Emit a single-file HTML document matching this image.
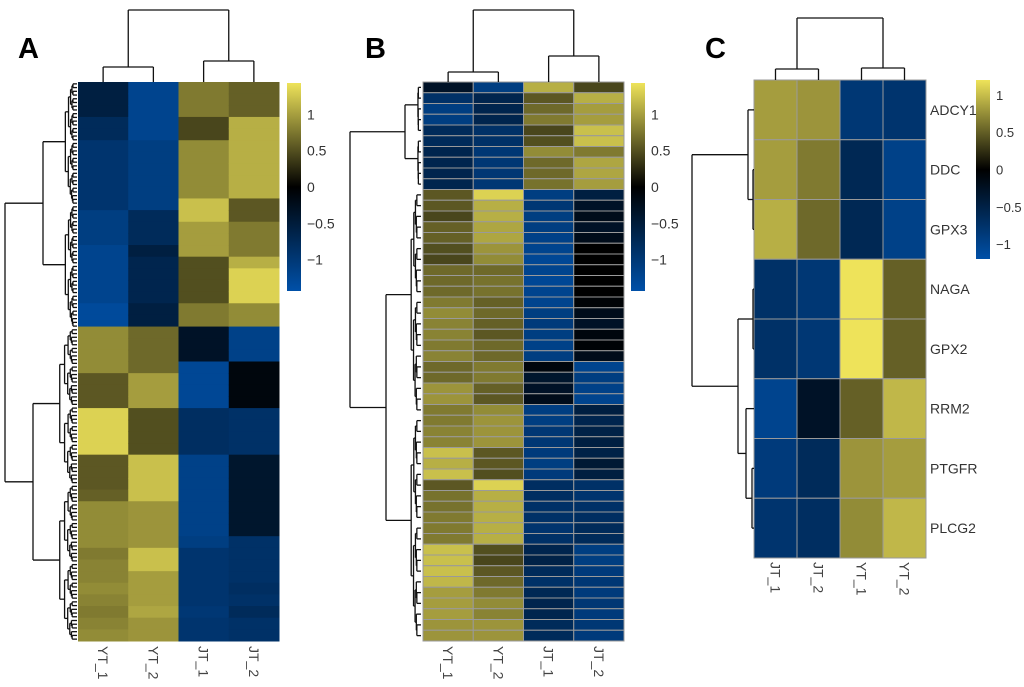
<!DOCTYPE html>
<html><head><meta charset="utf-8"><style>
html,body{margin:0;padding:0;background:#fff;width:1024px;height:687px;overflow:hidden}
svg{display:block}
text{font-family:"Liberation Sans",sans-serif}
</style></head><body>
<svg id="fig" width="1024" height="687" viewBox="0 0 1024 687" xmlns="http://www.w3.org/2000/svg">
<defs>
<linearGradient id="cb" x1="0" y1="1" x2="0" y2="0">
<stop offset="0" stop-color="#0050a8"/><stop offset="0.5" stop-color="#000000"/><stop offset="1" stop-color="#eee35a"/>
</linearGradient>
</defs>
<text x="18" y="58" font-size="29" font-weight="bold">A</text>
<text x="365" y="58" font-size="29" font-weight="bold">B</text>
<text x="705" y="58" font-size="29" font-weight="bold">C</text>
</svg>
<script>
// ---- Panel A data ----
const colsA = ["YT_1","YT_2","JT_1","JT_2"];
const A_YT1 = [-0.5,-0.5,-0.5,-0.7,-0.7,-0.85,-0.85,-0.85,-0.85,-0.85,-0.85,-1.0,-1.0,-1.0,-1.1,-1.1,-1.1,-1.1,-1.1,-1.2,-1.2,0.8,0.8,0.8,0.8,0.5,0.5,0.5,1.2,1.2,1.2,1.2,0.5,0.5,0.5,0.55,0.8,0.8,0.8,0.8,0.7,0.75,0.75,0.8,0.75,0.7,0.75,0.8];
const A_YT2 = [-1.1,-1.1,-1.1,-1.1,-1.1,-1.0,-1.0,-1.0,-1.0,-1.0,-1.0,-0.7,-0.7,-0.7,-0.5,-0.6,-0.6,-0.6,-0.6,-0.5,-0.5,0.6,0.6,0.6,0.6,0.9,0.9,0.9,0.45,0.45,0.45,0.45,1.1,1.1,1.1,1.1,0.85,0.85,0.85,0.85,1.1,1.1,0.9,0.9,0.9,0.95,0.85,0.85];
const A_JT1 = [0.7,0.7,0.7,0.4,0.4,0.8,0.8,0.8,0.8,0.8,1.1,1.1,0.9,0.9,0.9,0.45,0.45,0.45,0.45,0.7,0.7,-0.3,-0.3,-0.3,-1.15,-1.15,-1.15,-1.15,-0.75,-0.75,-0.75,-0.75,-1.05,-1.05,-1.05,-1.05,-1.05,-1.05,-1.05,-1.0,-0.85,-0.85,-0.85,-0.85,-0.85,-0.9,-0.85,-0.85];
const A_JT2 = [0.55,0.55,0.55,1.0,1.0,1.0,1.0,1.0,1.0,1.0,0.5,0.5,0.7,0.7,0.7,1.0,1.2,1.2,1.2,0.8,0.8,-1.05,-1.05,-1.05,-0.1,-0.1,-0.1,-0.1,-0.8,-0.8,-0.8,-0.8,-0.35,-0.35,-0.35,-0.35,-0.35,-0.35,-0.35,-0.8,-0.8,-0.8,-0.8,-0.75,-0.8,-0.7,-0.8,-0.8];
// ---- Panel B data ----
const colsB = ["YT_1","YT_2","JT_1","JT_2"];
const B_YT1 = [-0.3,-0.8,-1.0,-1.0,-0.7,-0.7,-0.6,-0.6,-0.6,-0.6,0.5,0.5,0.4,0.55,0.55,0.45,0.4,0.6,0.6,0.6,0.7,0.8,0.75,0.75,0.7,0.75,0.6,0.6,0.85,0.85,0.7,0.7,0.75,0.75,1.1,1.0,1.1,0.5,0.65,0.65,0.7,0.7,0.7,1.1,1.1,1.1,1.05,0.9,0.9,0.9,0.85,0.85];
const B_YT2 = [-1.0,-0.6,-0.6,-0.6,-0.8,-0.8,-0.9,-0.9,-0.9,-0.9,1.2,1.0,1.0,0.95,0.95,0.85,0.8,0.6,0.65,0.65,0.55,0.6,0.55,0.5,0.6,0.6,0.7,0.7,0.55,0.5,0.8,0.85,0.85,0.85,0.5,0.5,0.45,1.2,1.0,1.0,1.0,1.0,1.0,0.45,0.4,0.5,0.6,0.7,0.8,0.75,0.85,0.85];
const B_JT1 = [1.0,0.5,0.6,0.7,0.4,0.45,0.8,0.6,0.6,0.65,-1.0,-0.9,-1.0,-1.0,-1.05,-1.1,-1.15,-1.1,-1.15,-1.1,-1.1,-1.0,-0.95,-1.0,-1.05,-1.0,-0.1,-0.35,-0.3,-0.2,-1.0,-1.0,-0.9,-0.9,-0.95,-1.0,-0.95,-0.75,-0.75,-0.8,-0.8,-0.85,-0.8,-0.6,-0.55,-0.7,-0.8,-0.65,-0.6,-0.6,-0.7,-0.7];
const B_JT2 = [0.4,1.0,0.9,0.9,1.1,1.1,0.7,0.95,0.95,0.9,-0.5,-0.3,-0.2,-0.3,-0.2,0,0,0,0,0,-0.05,-0.2,-0.3,-0.1,-0.05,-0.2,-1.1,-1.0,-1.05,-1.1,-0.5,-0.6,-0.55,-0.5,-0.55,-0.4,-0.5,-0.8,-0.85,-0.8,-0.75,-0.7,-0.7,-1.0,-1.0,-0.95,-0.9,-0.95,-0.9,-0.95,-0.9,-0.95];
// ---- Panel C data ----
const colsC = ["JT_1","JT_2","YT_1","YT_2"];
const genesC = ["ADCY1","DDC","GPX3","NAGA","GPX2","RRM2","PTGFR","PLCG2"];
const C_JT1 = [0.9,0.9,1.0,-0.8,-0.8,-1.1,-0.95,-0.85];
const C_JT2 = [0.85,0.7,0.6,-0.9,-0.9,-0.3,-0.7,-0.75];
const C_YT1 = [-0.9,-0.65,-0.65,1.3,1.3,0.55,0.85,0.8];
const C_YT2 = [-0.85,-1.05,-1.05,0.55,0.55,1.05,0.9,1.05];
const legendTicks = [1,0.5,0,-0.5,-1];
const legendLabels = ["1","0.5","0","\u22120.5","\u22121"];

const NS="http://www.w3.org/2000/svg";
const svg=document.getElementById('fig');
function mk(tag,attrs,parent){const e=document.createElementNS(NS,tag);for(const k in attrs)e.setAttribute(k,attrs[k]);(parent||svg).appendChild(e);return e;}
function color(v){
  const t=Math.max(-1,Math.min(1,v/1.3));
  let r,g,b;
  if(t<0){const s=-t;r=0;g=80*s;b=168*s;}
  else{const s=t;r=238*s;g=227*s;b=90*s;}
  return `rgb(${Math.round(r)},${Math.round(g)},${Math.round(b)})`;
}
function line(x1,y1,x2,y2,name){const l=mk('line',{x1,y1,x2,y2,stroke:'#111','stroke-width':1.3});
  
  
}
function heat(series,x0,x1,y0,y1,border,pname){
  const nc=series.length,nr=series[0].length;
  const sx=i=>x0+(x1-x0)*i/nc, sy=j=>y0+(y1-y0)*j/nr;
  for(let c=0;c<nc;c++)for(let r=0;r<nr;r++){
    const rc=mk('rect',{x:sx(c),y:sy(r),width:sx(c+1)-sx(c)+(border?0:0.5),height:sy(r+1)-sy(r)+(border?0:0.5),fill:color(series[c][r])});
    if(border){rc.setAttribute('stroke','#9a9a9a');rc.setAttribute('stroke-width','1');}
    
    
  }
  return {sx,sy};
}
function colLabels(labels,xs,y,pname){
  labels.forEach((l,i)=>{const t=mk('text',{x:0,y:0,'font-size':14,fill:'#444',transform:`translate(${xs[i]-5},${y}) rotate(90)`});t.textContent=l;
    
    });
}
function legend(x,y0,y1,vmax,pname,fs){
  const r=mk('rect',{x,y:y0,width:14,height:y1-y0,fill:'url(#cb)'});
  
  
  const sy=v=>y0+(y1-y0)*(vmax-v)/(2*vmax);
  legendTicks.forEach((v,i)=>{const t=mk('text',{x:x+20,y:sy(v)+5,'font-size':fs||14,fill:'#333'});t.textContent=legendLabels[i];
    
    });
}
function rowTree(a,b,ys,xRight,maxW,pname){
  if(b-a<=1)return [xRight,ys(a+0.5)];
  const m=Math.floor((a+b)/2);
  const L=rowTree(a,m,ys,xRight,maxW,pname),R=rowTree(m,b,ys,xRight,maxW,pname);
  const x=xRight-maxW*Math.pow((b-a),0.55)/Math.pow(200,0.55)-2;
  line(x,L[1],L[0],L[1],pname);line(x,R[1],R[0],R[1],pname);line(x,L[1],x,R[1],pname);
  return [x,(L[1]+R[1])/2];
}
function subTree(a,b,ys,xRight,xNode,pname){
  const m=Math.floor((a+b)/2);
  const L=rowTree(a,m,ys,xRight,xRight-xNode-8,pname),R=rowTree(m,b,ys,xRight,xRight-xNode-8,pname);
  line(xNode,L[1],L[0],L[1],pname);line(xNode,R[1],R[0],R[1],pname);line(xNode,L[1],xNode,R[1],pname);
  return [xNode,(L[1]+R[1])/2];
}
// ---- Panel A ----
(function(){
  const x0=78,x1=279,y0=82,y1=641;
  const {sx}=heat([A_YT1,A_YT2,A_JT1,A_JT2],x0,x1,y0,y1,false,'panel-a');
  const c=i=>(sx(i)+sx(i+1))/2, D='panel-a-col-dendro';
  line(c(0),82,c(0),67,D);line(c(1),82,c(1),67,D);line(c(0),67,c(1),67,D);
  line(c(2),82,c(2),61,D);line(c(3),82,c(3),61,D);line(c(2),61,c(3),61,D);
  const lm=(c(0)+c(1))/2,rm=(c(2)+c(3))/2;
  line(lm,67,lm,10,D);line(rm,61,rm,10,D);line(lm,10,rm,10,D);
  const N=150,split=66;const ys=i=>y0+(y1-y0)*i/N;
  const T=subTree(0,split,ys,77,43,'panel-a-row-dendro');
  const B=subTree(split,N,ys,77,33,'panel-a-row-dendro');
  line(5,T[1],T[0],T[1],'panel-a-row-dendro');line(5,B[1],B[0],B[1],'panel-a-row-dendro');line(5,T[1],5,B[1],'panel-a-row-dendro');
  colLabels(colsA,[0,1,2,3].map(c),646,'panel-a');
  legend(287,83,291,1.43,'panel-a');
})();
// ---- Panel B ----
(function(){
  const x0=423,x1=624,y0=82,y1=641;
  const {sx,sy}=heat([B_YT1,B_YT2,B_JT1,B_JT2],x0,x1,y0,y1,true,'panel-b');
  const c=i=>(sx(i)+sx(i+1))/2, D='panel-b-col-dendro';
  line(c(0),82,c(0),72,D);line(c(1),82,c(1),72,D);line(c(0),72,c(1),72,D);
  line(c(2),82,c(2),56,D);line(c(3),82,c(3),56,D);line(c(2),56,c(3),56,D);
  const lm=(c(0)+c(1))/2,rm=(c(2)+c(3))/2;
  line(lm,72,lm,10,D);line(rm,56,rm,10,D);line(lm,10,rm,10,D);
  const N=B_YT1.length;
  const T=subTree(0,10,sy,421,405,'panel-b-row-dendro');
  const B=subTree(10,N,sy,421,386,'panel-b-row-dendro');
  line(350,T[1],T[0],T[1],'panel-b-row-dendro');line(350,B[1],B[0],B[1],'panel-b-row-dendro');line(350,T[1],350,B[1],'panel-b-row-dendro');
  colLabels(colsB,[0,1,2,3].map(c),646,'panel-b');
  legend(631,83,291,1.43,'panel-b');
})();
// ---- Panel C ----
(function(){
  const x0=754,x1=926,y0=80,y1=558;
  const {sx,sy}=heat([C_JT1,C_JT2,C_YT1,C_YT2],x0,x1,y0,y1,true,'panel-c');
  const c=i=>(sx(i)+sx(i+1))/2, r=j=>(sy(j)+sy(j+1))/2;
  const L='panel-c-col-dendro';
  line(c(0),80,c(0),69,L);line(c(1),80,c(1),69,L);line(c(0),69,c(1),69,L);
  line(c(2),80,c(2),68,L);line(c(3),80,c(3),68,L);line(c(2),68,c(3),68,L);
  const lm=(c(0)+c(1))/2,rm=(c(2)+c(3))/2;
  line(lm,69,lm,18,L);line(rm,68,rm,18,L);line(lm,18,rm,18,L);
  const R='panel-c-row-dendro';
  line(753,r(1),754,r(1),R);line(753,r(2),754,r(2),R);line(753,r(1),753,r(2),R);
  const dg=(r(1)+r(2))/2;
  line(748,r(0),754,r(0),R);line(748,dg,753,dg,R);line(748,r(0),748,dg,R);
  const top=(r(0)+dg)/2;
  line(753,r(3),754,r(3),R);line(753,r(4),754,r(4),R);line(753,r(3),753,r(4),R);
  const ng=(r(3)+r(4))/2;
  line(752,r(6),754,r(6),R);line(752,r(7),754,r(7),R);line(752,r(6),752,r(7),R);
  const pp=(r(6)+r(7))/2;
  line(746,r(5),754,r(5),R);line(746,pp,752,pp,R);line(746,r(5),746,pp,R);
  const rr=(r(5)+pp)/2;
  line(738,ng,753,ng,R);line(738,rr,746,rr,R);line(738,ng,738,rr,R);
  const bot=(ng+rr)/2;
  line(692,top,748,top,R);line(692,bot,738,bot,R);line(692,top,692,bot,R);
  genesC.forEach((g,j)=>{const t=mk('text',{x:930,y:r(j)+5,'font-size':14,fill:'#333'});t.textContent=g;
    
    });
  colLabels(colsC,[0,1,2,3].map(c),562,'panel-c');
  legend(976,80,259,1.2,'panel-c',13);
})();
</script>
</body></html>
